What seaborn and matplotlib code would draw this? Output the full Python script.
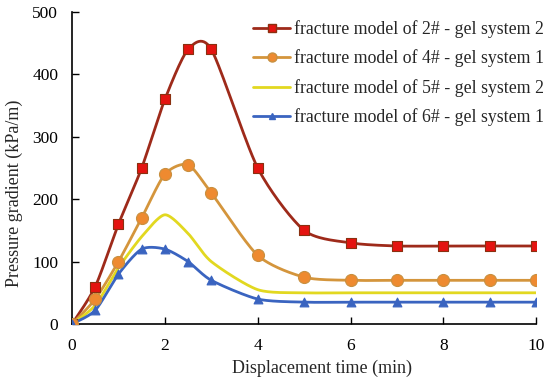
import numpy as np
import pandas as pd
import matplotlib
matplotlib.use("Agg")
import matplotlib.pyplot as plt
from matplotlib.lines import Line2D
import seaborn as sns

time_min = [0, 0.5, 1, 1.5, 2, 2.5, 3, 4, 5, 6, 7, 8, 9, 10]
model2_gel2 = [0, 60, 160, 250, 360, 440, 440, 250, 150, 130, 125, 125, 125, 125]
model4_gel1 = [0, 40, 100, 170, 240, 255, 210, 110, 75, 70, 70, 70, 70, 70]
model5_gel2 = [0, 30, 90, 140, 175, 145, 100, 55, 50, 50, 50, 50, 50, 50]
model6_gel1 = [0, 22, 80, 120, 120, 100, 70, 40, 35, 35, 35, 35, 35, 35]
labels = ["fracture model of 2# - gel system 2",
          "fracture model of 4# - gel system 1",
          "fracture model of 5# - gel system 2",
          "fracture model of 6# - gel system 1"]

sns.set_theme(style="ticks")
plt.rcParams['font.family'] = ['Liberation Serif', 'DejaVu Serif']


def smooth(xs, ys, n=30, k=1 / 8):
    """Excel-like smoothed line (Bezier through the points)."""
    P = np.column_stack([xs, ys]).astype(float)
    P = np.vstack([P[0], P, P[-1]])
    out = []
    for i in range(1, len(P) - 2):
        p0, p1, p2, p3 = P[i - 1], P[i], P[i + 1], P[i + 2]
        c1 = p1 + (p2 - p0) * k
        c2 = p2 - (p3 - p1) * k
        t = np.linspace(0, 1, n)[:, None]
        seg = ((1 - t) ** 3) * p1 + 3 * ((1 - t) ** 2) * t * c1 + 3 * (1 - t) * t ** 2 * c2 + t ** 3 * p2
        out.append(seg if i == 1 else seg[1:])
    a = np.vstack(out)
    return a[:, 0], a[:, 1]


fig = plt.figure(figsize=(5.5, 3.81), dpi=100)
ax = fig.add_axes([0.131, 0.1496, 0.844, 0.819])

series = [model2_gel2, model4_gel1, model5_gel2, model6_gel1]
line_colors = ["#9E2A1A", "#D4953C", "#E2D820", "#3A64C0"]
mk_faces = ["#E41410", "#EE8A30", None, "#3A64C0"]
mk_edges = ["#8A3010", "#C89040", None, "#3A64C0"]
markers = ["s", "o", None, "^"]
msizes = [60, 75, 0, 40]

handles = []
for ys, lc, mf, me, m, ms, lab in zip(series, line_colors, mk_faces, mk_edges, markers, msizes, labels):
    sx, sy = smooth(time_min, ys)
    sns.lineplot(x=sx, y=sy, ax=ax, color=lc, lw=2.0, sort=False, estimator=None, legend=False)
    if m is not None:
        sns.scatterplot(x=time_min, y=ys, ax=ax, marker=m, s=ms, color=mf,
                        edgecolor=me, linewidth=0.8, zorder=5, legend=False)
        handles.append(Line2D([], [], color=lc, lw=2.0, marker=m, markersize=np.sqrt(ms) * 0.75,
                              markerfacecolor=mf, markeredgecolor=me))
    else:
        handles.append(Line2D([], [], color=lc, lw=2.0))

ax.set_xlim(0, 10)
ax.set_ylim(0, 500)
ax.set_xticks(range(0, 11, 2))
ax.set_yticks(range(0, 501, 100))
ax.tick_params(direction="in", length=5, width=1, labelsize=12.5, colors="black")
ax.tick_params(axis="x", pad=10)
ax.tick_params(axis="y", pad=10)
for s in ["top", "right"]:
    ax.spines[s].set_visible(False)
for s in ["left", "bottom"]:
    ax.spines[s].set_color("black")
    ax.spines[s].set_linewidth(1.2)
ax.set_xlabel("Displacement time (min)", fontsize=13)
ax.set_ylabel("Pressure gradient (kPa/m)", fontsize=13)
ax.xaxis.set_label_coords(0.538, -0.115)
ax.yaxis.set_label_coords(-0.106, 0.418)

fig.legend(handles, labels, loc="upper left", bbox_to_anchor=(253 / 550, 1 - 20 / 381),
           frameon=False, fontsize=12.8, handlelength=2.1, handletextpad=0.2,
           labelspacing=0.65, borderpad=0, borderaxespad=0)

fig.savefig("out.png", dpi=100)
